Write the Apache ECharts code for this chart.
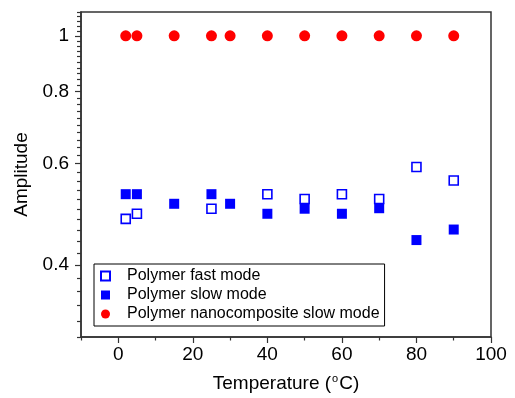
<!DOCTYPE html>
<html>
<head>
<meta charset="utf-8">
<script src="https://cdn.jsdelivr.net/npm/echarts@6/dist/echarts.min.js"></script>
<style>html,body{margin:0;padding:0;background:#fff}#c{width:515px;height:398px}</style>
</head>
<body>
<div id="c"></div>
<script>
// ---- data ----
var temps = [2, 5, 15, 25, 30, 40, 50, 60, 70, 80, 90];
var fastTemps = [2, 5, 25, 40, 50, 60, 70, 80, 90];
var fastAmp = [0.481, 0.491, 0.501, 0.531, 0.521, 0.531, 0.521, 0.592, 0.561];
var slowAmp = [0.531, 0.531, 0.511, 0.531, 0.511, 0.491, 0.501, 0.491, 0.502, 0.442, 0.461];
var nanoAmp = [1, 1, 1, 1, 1, 1, 1, 1, 1, 1, 1];
var seriesNames = ['Polymer fast mode', 'Polymer slow mode', 'Polymer nanocomposite slow mode'];
var xMajorTicks = [0, 20, 40, 60, 80, 100];
var xMinorTicks = [-10, 10, 30, 50, 70, 90];
var yMajorTicks = [0.4, 0.6, 0.8, 1];
var yMin = 0.3, yMax = 1.1, yMinorStep = 0.02;

var yMinorTicks = [];
for (var k = 0; ; k++) {
  var v = Math.round((yMin + k * yMinorStep) * 1000) / 1000;
  if (v > yMax + 1e-9) break;
  if (yMajorTicks.indexOf(v) < 0) yMinorTicks.push(v);
}
function lg(v) { return Math.log(v) / Math.LN10; }
function zip(a, b) { return a.map(function (x, i) { return [x, b[i]]; }); }

var FONT = "'Liberation Sans', Arial, sans-serif";
var AX = '#333';
var chart = echarts.init(document.getElementById('c'), null, {renderer: 'canvas'});
chart.setOption({
  animation: false,
  backgroundColor: '#fff',
  grid: {left: 81, right: 24, top: 12, bottom: 59, show: true, borderColor: AX, borderWidth: 1.5, backgroundColor: 'transparent'},
  xAxis: [
    {
      type: 'value', min: -10, max: 100, interval: 10, position: 'bottom',
      name: 'Temperature ({s|o}C)', nameLocation: 'middle', nameGap: 36,
      nameTextStyle: {fontFamily: FONT, fontSize: 19, color: '#000',
        rich: {s: {fontFamily: FONT, fontSize: 11, color: '#000', padding: [0, 1, 10, 1]}}},
      axisLine: {show: true, onZero: false, lineStyle: {color: AX, width: 1.5}},
      axisTick: {show: true, inside: false, length: 6, customValues: xMajorTicks, lineStyle: {color: AX, width: 1.2}},
      axisLabel: {show: true, customValues: xMajorTicks, margin: 8, fontFamily: FONT, fontSize: 19, color: '#000'},
      splitLine: {show: false}
    },
    {
      type: 'value', min: -10, max: 100, interval: 10, position: 'bottom',
      axisLine: {show: false, onZero: false},
      axisTick: {show: true, inside: false, length: 3.5, customValues: xMinorTicks, lineStyle: {color: AX, width: 1.2}},
      axisLabel: {show: false},
      splitLine: {show: false}
    }
  ],
  yAxis: [
    {
      type: 'log', logBase: 10, min: yMin, max: yMax, position: 'left',
      axisLine: {show: false, onZero: false}, axisTick: {show: false},
      axisLabel: {show: false}, splitLine: {show: false}, minorTick: {show: false}, minorSplitLine: {show: false}
    },
    {
      type: 'value', min: lg(yMin), max: lg(yMax), position: 'left',
      name: 'Amplitude', nameLocation: 'middle', nameGap: 46,
      nameTextStyle: {fontFamily: FONT, fontSize: 19, color: '#000'},
      axisLine: {show: true, onZero: false, lineStyle: {color: AX, width: 1.5}},
      axisTick: {show: true, inside: false, length: 6, customValues: yMajorTicks.map(lg), lineStyle: {color: AX, width: 1.2}},
      axisLabel: {show: true, customValues: yMajorTicks.map(lg), margin: 12, fontFamily: FONT, fontSize: 19, color: '#000',
        formatter: function (val) { return String(Math.round(Math.pow(10, val) * 100) / 100); }},
      splitLine: {show: false}
    },
    {
      type: 'value', min: lg(yMin), max: lg(yMax), position: 'left',
      axisLine: {show: false, onZero: false},
      axisTick: {show: true, inside: false, length: 4, customValues: yMinorTicks.map(lg), lineStyle: {color: AX, width: 1.2}},
      axisLabel: {show: false},
      splitLine: {show: false}
    }
  ],
  legend: {
    orient: 'vertical', left: 94, top: 264,
    padding: [4, 5, 4, 6], itemGap: 3, itemWidth: 9, itemHeight: 9,
    borderColor: '#000', borderWidth: 1, backgroundColor: '#fff',
    textStyle: {fontFamily: FONT, fontSize: 16, color: '#000', lineHeight: 16, padding: [0, 0, 0, 12]},
    data: seriesNames
  },
  series: [
    {
      name: seriesNames[0], type: 'scatter', xAxisIndex: 0, yAxisIndex: 0,
      symbol: 'rect', symbolSize: 9,
      itemStyle: {color: '#fff', borderColor: '#0000ff', borderWidth: 1.6, opacity: 1},
      data: zip(fastTemps, fastAmp), z: 3
    },
    {
      name: seriesNames[1], type: 'scatter', xAxisIndex: 0, yAxisIndex: 0,
      symbol: 'rect', symbolSize: 10,
      itemStyle: {color: '#0000ff', opacity: 1},
      data: zip(temps, slowAmp), z: 4
    },
    {
      name: seriesNames[2], type: 'scatter', xAxisIndex: 0, yAxisIndex: 0,
      symbol: 'circle', symbolSize: 11,
      itemStyle: {color: '#ff0000', opacity: 1},
      data: zip(temps, nanoAmp), z: 5
    }
  ]
});
</script>
</body>
</html>
